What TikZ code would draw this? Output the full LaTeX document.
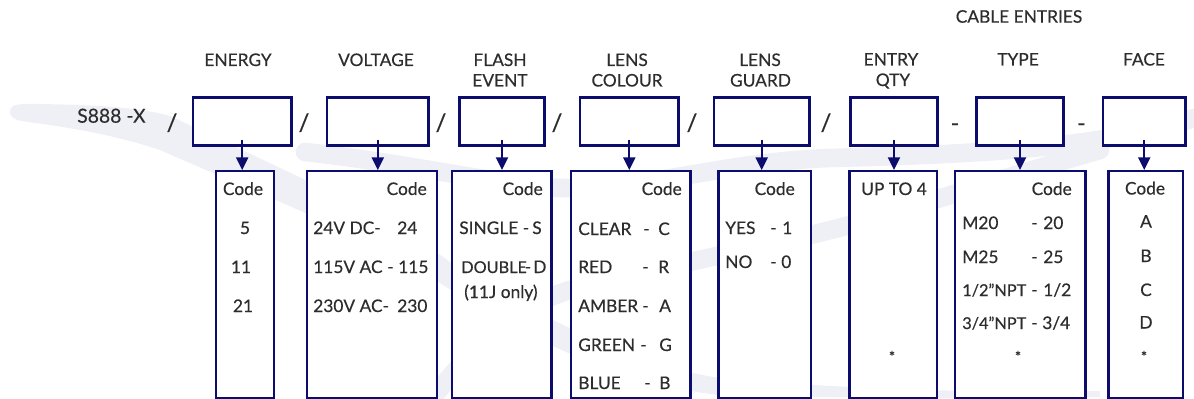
\documentclass[tikz,border=0pt]{standalone}
\usepackage{fontspec}
\setmainfont{Lato}[FakeBold=0.4]
\usetikzlibrary{arrows.meta}
\definecolor{navy}{RGB}{12,12,110}
\definecolor{tc}{RGB}{45,45,45}
\definecolor{wm}{RGB}{239,240,246}
\tikzset{
  topbox/.style={draw=navy, line width=2.1pt, fill=white, inner sep=0pt, minimum height=36pt},
  lowbox/.style={draw=navy, line width=1.8pt, fill=white, inner sep=0pt, minimum height=169.9pt},
  arr/.style={draw=navy, line width=1.5pt, -{Triangle[length=9.5pt,width=9pt]}},
  txt/.style={font=\fontsize{13}{15}\selectfont, text=tc, inner sep=0pt},
  lft/.style={txt, anchor=base west},
  ctr/.style={txt, anchor=base},
  rgt/.style={txt, anchor=base east},
  sep/.style={font=\fontsize{18}{20}\selectfont, text=tc, inner sep=0pt, anchor=base},
  dsh/.style={font=\fontsize{17}{19}\selectfont, text=tc, inner sep=0pt, anchor=base},
  star/.style={font=\fontsize{11}{12}\selectfont, text=tc, inner sep=0pt, anchor=base},
  npt/.style={lft, font=\fontsize{12.2}{14}\selectfont},
  wmband/.style={draw=wm, line width=14pt, line cap=round}
}
\begin{document}
\begin{tikzpicture}[x=0.75pt,y=-0.75pt]
\useasboundingbox (0,0) rectangle (1194,399);
% faint watermark
\fill[wm] (10,112) .. controls (10,103) and (20,104) .. (40,104)
  .. controls (100,105) and (150,108) .. (175,118)
  .. controls (260,160) and (380,210) .. (450,262)
  .. controls (560,330) and (650,368) .. (720,378)
  .. controls (880,392) and (1000,392) .. (1100,391)
  -- (1100,397)
  .. controls (1000,399) and (880,399) .. (720,395)
  .. controls (620,385) and (520,335) .. (440,283)
  .. controls (360,232) and (250,190) .. (160,150)
  .. controls (100,130) and (40,124) .. (22,121)
  .. controls (12,119) and (10,116) .. (10,112) -- cycle;
\draw[wmband] (305,152) .. controls (400,162) and (500,185) .. (560,188)
  .. controls (650,190) and (720,162) .. (830,158)
  .. controls (950,155) and (1100,150) .. (1194,118);
\draw[wmband] (437,392) .. controls (480,340) and (520,305) .. (570,290)
  .. controls (680,262) and (800,240) .. (860,222)
  .. controls (950,196) and (1030,170) .. (1100,150);

% header labels
\node[ctr] (hce) at (1019,22.7) {CABLE ENTRIES};
\node[ctr] (h1) at (238,66) {ENERGY};
\node[ctr] (h2) at (376,66) {VOLTAGE};
\node[ctr] (h3a) at (500,66) {FLASH};
\node[ctr] (h3b) at (500,86.5) {EVENT};
\node[ctr] (h4a) at (627,66) {LENS};
\node[ctr] (h4b) at (627,86.5) {COLOUR};
\node[ctr] (h5a) at (760,66) {LENS};
\node[ctr] (h5b) at (760.5,86.5) {GUARD};
\node[ctr] (h6a) at (891,65.5) {ENTRY};
\node[ctr] (h6b) at (893,86) {QTY};
\node[ctr] (h7) at (1018,65.5) {TYPE};
\node[ctr] (h8) at (1144,65.5) {FACE};

% part number row
\node[lft, font=\fontsize{14.5}{16}\selectfont] (pn) at (77,122.7) {S888 -X};
\node[sep] (s1) at (172,131) {/};
\node[sep] (s2) at (304,131) {/};
\node[sep] (s3) at (441,131) {/};
\node[sep] (s4) at (557,131) {/};
\node[sep] (s5) at (692,131) {/};
\node[sep] (s6) at (826,131) {/};
\node[dsh] (d1) at (955,131) {-};
\node[dsh] (d2) at (1081.5,131) {-};

% top boxes
\node[topbox, minimum width=73.7pt] (t1) at (242.2,121.35) {};
\node[topbox, minimum width=76.2pt] (t2) at (377.8,121.35) {};
\node[topbox, minimum width=64pt] (t3) at (502,121.35) {};
\node[topbox, minimum width=74pt] (t4) at (629.3,121.35) {};
\node[topbox, minimum width=71.5pt] (t5) at (761.7,121.35) {};
\node[topbox, minimum width=65.5pt] (t6) at (894,121.35) {};
\node[topbox, minimum width=65.5pt] (t7) at (1020,121.35) {};
\node[topbox, minimum width=61.7pt] (t8) at (1144.2,121.35) {};

% lower boxes
\node[lowbox, minimum width=43.3pt] (b1) at (245,284.5) {};
\node[lowbox, minimum width=97.5pt] (b2) at (372.2,284.5) {};
\node[lowbox, minimum width=74.5pt] (b3) at (501.85,284.5) {};
\node[lowbox, minimum width=89.5pt] (b4) at (630.85,284.5) {};
\node[lowbox, minimum width=69.5pt] (b5) at (764.8,284.5) {};
\node[lowbox, minimum width=65.8pt] (b6) at (893.3,284.5) {};
\node[lowbox, minimum width=97.8pt] (b7) at (1020.35,284.5) {};
\node[lowbox, minimum width=56pt] (b8) at (1145.8,284.5) {};

% arrows
\foreach \i in {1,...,8} {
  \draw[arr] ([yshift=5pt]t\i.south) -- (t\i.south |- b\i.north);
}

% box 1 ENERGY
\node[ctr] (c1) at (243,195) {Code};
\node[ctr] (e1) at (245,234) {5};
\node[ctr] (e2) at (241,273) {11};
\node[ctr] (e3) at (243,312) {21};

% box 2 VOLTAGE
\node[rgt] (c2) at (427,195) {Code};
\node[lft] (v1a) at (313,234) {24V DC-};
\node[lft] (v1b) at (397,234) {24};
\node[lft] (v2a) at (313,273) {115V AC};
\node[lft] (v2d) at (387,273) {-};
\node[lft] (v2b) at (398,273) {115};
\node[lft] (v3a) at (313,312) {230V AC-};
\node[lft] (v3b) at (397,312) {230};

% box 3 FLASH EVENT
\node[rgt] (c3) at (543,195) {Code};
\node[lft] (f1a) at (459,234) {SINGLE -};
\node[lft] (f1b) at (532,234) {S};
\node[lft, font=\fontsize{12.2}{14}\selectfont] (f2a) at (461,273) {DOUBLE};
\node[lft] (f2d) at (524.5,273) {-};
\node[lft] (f2b) at (533,273) {D};
\node[lft] (f3) at (464,298) {(11J only)};

% box 4 LENS COLOUR
\node[rgt] (c4) at (682,195) {Code};
\node[lft] (l1a) at (578,235) {CLEAR};
\node[lft] (l1d) at (643,235) {-};
\node[lft] (l1b) at (658,235) {C};
\node[lft] (l2a) at (578,273) {RED};
\node[lft] (l2d) at (642,273) {-};
\node[lft] (l2b) at (658,273) {R};
\node[lft] (l3a) at (578,312) {AMBER};
\node[lft] (l3d) at (642,312) {-};
\node[lft] (l3b) at (659,312) {A};
\node[lft] (l4a) at (578,351) {GREEN};
\node[lft] (l4d) at (640,351) {-};
\node[lft] (l4b) at (659,351) {G};
\node[lft] (l5a) at (578,389) {BLUE};
\node[lft] (l5d) at (644,389) {-};
\node[lft] (l5b) at (659,389) {B};

% box 5 LENS GUARD
\node[rgt] (c5) at (795,195) {Code};
\node[lft] (g1a) at (725,234) {YES};
\node[lft] (g1d) at (770,234) {-};
\node[lft] (g1b) at (782,234) {1};
\node[lft] (g2a) at (725,268) {NO};
\node[lft] (g2d) at (770,268) {-};
\node[lft] (g2b) at (781,268) {0};

% box 6 ENTRY QTY
\node[ctr] (q1) at (894,195) {UP TO 4};
\node[star] (q2) at (892,362) {*};

% box 7 TYPE
\node[rgt] (c7) at (1072,195) {Code};
\node[lft] (y1a) at (962,229) {M20};
\node[lft] (y1d) at (1031,229) {-};
\node[lft] (y1b) at (1043,229) {20};
\node[lft] (y2a) at (962,263) {M25};
\node[lft] (y2d) at (1031,263) {-};
\node[lft] (y2b) at (1043,263) {25};
\node[npt] (y3a) at (962,296) {1/2”NPT};
\node[lft] (y3d) at (1031,296) {-};
\node[lft] (y3b) at (1043,296) {1/2};
\node[npt] (y4a) at (962,329) {3/4”NPT};
\node[lft] (y4d) at (1031,329) {-};
\node[lft] (y4b) at (1042,329) {3/4};
\node[star] (y5) at (1018,362) {*};

% box 8 FACE
\node[ctr] (c8) at (1145,194.5) {Code};
\node[ctr] (a1) at (1146,227.5) {A};
\node[ctr] (a2) at (1146,262) {B};
\node[ctr] (a3) at (1146,296) {C};
\node[ctr] (a4) at (1146,328.5) {D};
\node[star] (a5) at (1144,362) {*};
\end{tikzpicture}
\end{document}
